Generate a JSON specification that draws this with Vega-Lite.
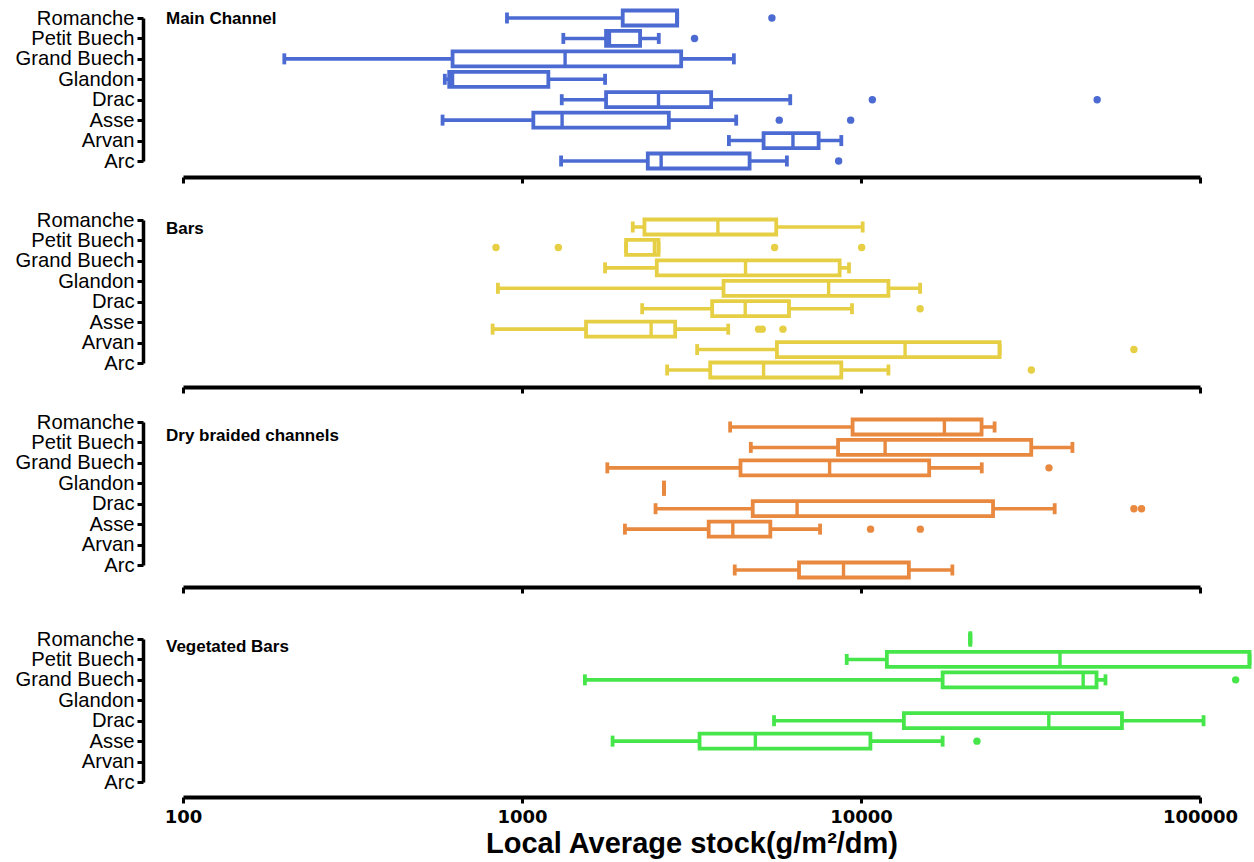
{
  "$schema": "https://vega.github.io/schema/vega-lite/v6.json",
  "padding": {"left": 15, "top": 8, "right": 0, "bottom": 4},
  "background": "white",
  "datasets": {
    "boxes": [
      {"panel": "Main Channel", "river": "Romanche", "lo": 903, "q1": 1982, "med": 2869, "q3": 2869, "hi": 2869},
      {"panel": "Main Channel", "river": "Petit Buech", "lo": 1324, "q1": 1770, "med": 1811, "q3": 2230, "hi": 2532},
      {"panel": "Main Channel", "river": "Grand Buech", "lo": 199, "q1": 624, "med": 1340, "q3": 2948, "hi": 4217},
      {"panel": "Main Channel", "river": "Glandon", "lo": 592, "q1": 610, "med": 624, "q3": 1196, "hi": 1758},
      {"panel": "Main Channel", "river": "Drac", "lo": 1310, "q1": 1770, "med": 2527, "q3": 3614, "hi": 6184},
      {"panel": "Main Channel", "river": "Asse", "lo": 583, "q1": 1080, "med": 1313, "q3": 2711, "hi": 4284},
      {"panel": "Main Channel", "river": "Arvan", "lo": 4077, "q1": 5160, "med": 6299, "q3": 7499, "hi": 8748},
      {"panel": "Main Channel", "river": "Arc", "lo": 1304, "q1": 2350, "med": 2573, "q3": 4692, "hi": 6045},
      {"panel": "Bars", "river": "Romanche", "lo": 2122, "q1": 2297, "med": 3783, "q3": 5623, "hi": 10114},
      {"panel": "Bars", "river": "Petit Buech", "lo": 2028, "q1": 2028, "med": 2458, "q3": 2527, "hi": 2527},
      {"panel": "Bars", "river": "Grand Buech", "lo": 1758, "q1": 2498, "med": 4564, "q3": 8650, "hi": 9218},
      {"panel": "Bars", "river": "Glandon", "lo": 849, "q1": 3931, "med": 8026, "q3": 12046, "hi": 14940},
      {"panel": "Bars", "river": "Drac", "lo": 2262, "q1": 3639, "med": 4555, "q3": 6131, "hi": 9406},
      {"panel": "Bars", "river": "Asse", "lo": 819, "q1": 1545, "med": 2404, "q3": 2830, "hi": 4058},
      {"panel": "Bars", "river": "Arvan", "lo": 3286, "q1": 5649, "med": 13490, "q3": 25640, "hi": 25640},
      {"panel": "Bars", "river": "Arc", "lo": 2680, "q1": 3591, "med": 5160, "q3": 8748, "hi": 12046},
      {"panel": "Dry braided channels", "river": "Romanche", "lo": 4111, "q1": 9445, "med": 17620, "q3": 22680, "hi": 24780},
      {"panel": "Dry braided channels", "river": "Petit Buech", "lo": 4731, "q1": 8557, "med": 11780, "q3": 31780, "hi": 42040},
      {"panel": "Dry braided channels", "river": "Grand Buech", "lo": 1785, "q1": 4411, "med": 8081, "q3": 15890, "hi": 22710},
      {"panel": "Dry braided channels", "river": "Glandon", "lo": 2623, "q1": 2623, "med": 2623, "q3": 2623, "hi": 2623},
      {"panel": "Dry braided channels", "river": "Drac", "lo": 2477, "q1": 4793, "med": 6478, "q3": 24520, "hi": 37270},
      {"panel": "Dry braided channels", "river": "Asse", "lo": 2012, "q1": 3554, "med": 4187, "q3": 5402, "hi": 7573},
      {"panel": "Dry braided channels", "river": "Arc", "lo": 4242, "q1": 6564, "med": 8880, "q3": 13840, "hi": 18600},
      {"panel": "Vegetated Bars", "river": "Romanche", "lo": 21010, "q1": 21010, "med": 21010, "q3": 21010, "hi": 21010},
      {"panel": "Vegetated Bars", "river": "Petit Buech", "lo": 9076, "q1": 11920, "med": 38630, "q3": 140000, "hi": 140000},
      {"panel": "Vegetated Bars", "river": "Grand Buech", "lo": 1533, "q1": 17410, "med": 45220, "q3": 49520, "hi": 52620},
      {"panel": "Vegetated Bars", "river": "Drac", "lo": 5539, "q1": 13380, "med": 35810, "q3": 58850, "hi": 102450},
      {"panel": "Vegetated Bars", "river": "Asse", "lo": 1850, "q1": 3340, "med": 4880, "q3": 10660, "hi": 17410}
    ],
    "outliers": [
      {"panel": "Main Channel", "river": "Romanche", "value": 5460},
      {"panel": "Main Channel", "river": "Petit Buech", "value": 3228},
      {"panel": "Main Channel", "river": "Drac", "value": 10800},
      {"panel": "Main Channel", "river": "Drac", "value": 49730},
      {"panel": "Main Channel", "river": "Asse", "value": 5740},
      {"panel": "Main Channel", "river": "Asse", "value": 9322},
      {"panel": "Main Channel", "river": "Arc", "value": 8591},
      {"panel": "Bars", "river": "Petit Buech", "value": 838},
      {"panel": "Bars", "river": "Petit Buech", "value": 1280},
      {"panel": "Bars", "river": "Petit Buech", "value": 5560},
      {"panel": "Bars", "river": "Petit Buech", "value": 10046},
      {"panel": "Bars", "river": "Drac", "value": 14940},
      {"panel": "Bars", "river": "Asse", "value": 4987},
      {"panel": "Bars", "river": "Asse", "value": 5113},
      {"panel": "Bars", "river": "Asse", "value": 5885},
      {"panel": "Bars", "river": "Arvan", "value": 63830},
      {"panel": "Bars", "river": "Arc", "value": 31800},
      {"panel": "Dry braided channels", "river": "Grand Buech", "value": 35850},
      {"panel": "Dry braided channels", "river": "Drac", "value": 63830},
      {"panel": "Dry braided channels", "river": "Drac", "value": 67230},
      {"panel": "Dry braided channels", "river": "Asse", "value": 10670},
      {"panel": "Dry braided channels", "river": "Asse", "value": 14960},
      {"panel": "Vegetated Bars", "river": "Grand Buech", "value": 127400},
      {"panel": "Vegetated Bars", "river": "Asse", "value": 21980}
    ]
  },
  "spacing": 59,
  "bounds": "flush",
  "vconcat": [
    {
      "width": 1017, "height": 143,
      "title": {"text": "Main Channel", "offset": -20},
      "data": {"name": "boxes"},
      "transform": [{"filter": "datum.panel === 'Main Channel'"}],
      "encoding": {"y": {"field": "river", "type": "nominal", "title": null, "scale": {"type": "point", "padding": 0, "domain": ["Romanche", "Petit Buech", "Grand Buech", "Glandon", "Drac", "Asse", "Arvan", "Arc"]}, "axis": {"offset": 40}}},
      "layer": [
        {"mark": {"type": "rule", "color": "#4b6bd3", "strokeWidth": 3.6}, "encoding": {"x": {"field": "lo", "type": "quantitative", "title": null, "scale": {"type": "log", "domain": [100, 100000], "nice": false}, "axis": {"labels": false, "offset": 16, "values": [100, 1000, 10000, 100000]}}, "x2": {"field": "hi"}}},
        {"mark": {"type": "bar", "fill": "white", "stroke": "#4b6bd3", "strokeWidth": 3.8, "height": 15}, "encoding": {"x": {"field": "q1", "type": "quantitative", "title": null, "scale": {"type": "log", "domain": [100, 100000], "nice": false}}, "x2": {"field": "q3"}}},
        {"mark": {"type": "tick", "color": "#4b6bd3", "size": 15, "thickness": 3.4, "opacity": 1}, "encoding": {"x": {"field": "med", "type": "quantitative", "title": null, "scale": {"type": "log", "domain": [100, 100000], "nice": false}}}},
        {"mark": {"type": "tick", "color": "#4b6bd3", "size": 11, "thickness": 3.8, "opacity": 1}, "encoding": {"x": {"field": "lo", "type": "quantitative", "title": null, "scale": {"type": "log", "domain": [100, 100000], "nice": false}}}},
        {"mark": {"type": "tick", "color": "#4b6bd3", "size": 11, "thickness": 3.8, "opacity": 1}, "encoding": {"x": {"field": "hi", "type": "quantitative", "title": null, "scale": {"type": "log", "domain": [100, 100000], "nice": false}}}},
        {"data": {"name": "outliers"}, "transform": [{"filter": "datum.panel === 'Main Channel'"}], "mark": {"type": "circle", "color": "#4b6bd3", "size": 55, "opacity": 1}, "encoding": {"x": {"field": "value", "type": "quantitative", "title": null, "scale": {"type": "log", "domain": [100, 100000], "nice": false}}}}
      ]
    },
    {
      "width": 1017, "height": 143,
      "title": {"text": "Bars", "offset": -27.5},
      "data": {"name": "boxes"},
      "transform": [{"filter": "datum.panel === 'Bars'"}],
      "encoding": {"y": {"field": "river", "type": "nominal", "title": null, "scale": {"type": "point", "padding": 0, "domain": ["Romanche", "Petit Buech", "Grand Buech", "Glandon", "Drac", "Asse", "Arvan", "Arc"]}, "axis": {"offset": 40}}},
      "layer": [
        {"mark": {"type": "rule", "color": "#e6cf44", "strokeWidth": 3.6, "yOffset": 7}, "encoding": {"x": {"field": "lo", "type": "quantitative", "title": null, "scale": {"type": "log", "domain": [100, 100000], "nice": false}, "axis": {"labels": false, "offset": 24, "values": [100, 1000, 10000, 100000]}}, "x2": {"field": "hi"}}},
        {"mark": {"type": "bar", "fill": "white", "stroke": "#e6cf44", "strokeWidth": 3.8, "height": 15, "yOffset": 7}, "encoding": {"x": {"field": "q1", "type": "quantitative", "title": null, "scale": {"type": "log", "domain": [100, 100000], "nice": false}}, "x2": {"field": "q3"}}},
        {"mark": {"type": "tick", "color": "#e6cf44", "size": 15, "thickness": 3.4, "opacity": 1, "yOffset": 7}, "encoding": {"x": {"field": "med", "type": "quantitative", "title": null, "scale": {"type": "log", "domain": [100, 100000], "nice": false}}}},
        {"mark": {"type": "tick", "color": "#e6cf44", "size": 11, "thickness": 3.8, "opacity": 1, "yOffset": 7}, "encoding": {"x": {"field": "lo", "type": "quantitative", "title": null, "scale": {"type": "log", "domain": [100, 100000], "nice": false}}}},
        {"mark": {"type": "tick", "color": "#e6cf44", "size": 11, "thickness": 3.8, "opacity": 1, "yOffset": 7}, "encoding": {"x": {"field": "hi", "type": "quantitative", "title": null, "scale": {"type": "log", "domain": [100, 100000], "nice": false}}}},
        {"data": {"name": "outliers"}, "transform": [{"filter": "datum.panel === 'Bars'"}], "mark": {"type": "circle", "color": "#e6cf44", "size": 55, "opacity": 1, "yOffset": 7}, "encoding": {"x": {"field": "value", "type": "quantitative", "title": null, "scale": {"type": "log", "domain": [100, 100000], "nice": false}}}}
      ]
    },
    {
      "width": 1017, "height": 158,
      "title": {"text": "Dry braided channels", "offset": -33},
      "data": {"name": "boxes"},
      "transform": [{"filter": "datum.panel === 'Dry braided channels'"}],
      "encoding": {"y": {"field": "river", "type": "nominal", "title": null, "scale": {"type": "point", "padding": 0, "range": [0, 143], "domain": ["Romanche", "Petit Buech", "Grand Buech", "Glandon", "Drac", "Asse", "Arvan", "Arc"]}, "axis": {"offset": 40}}},
      "layer": [
        {"mark": {"type": "rule", "color": "#e8893f", "strokeWidth": 3.6, "yOffset": 5}, "encoding": {"x": {"field": "lo", "type": "quantitative", "title": null, "scale": {"type": "log", "domain": [100, 100000], "nice": false}, "axis": {"labels": false, "offset": 7, "values": [100, 1000, 10000, 100000]}}, "x2": {"field": "hi"}}},
        {"mark": {"type": "bar", "fill": "white", "stroke": "#e8893f", "strokeWidth": 3.8, "height": 15, "yOffset": 5}, "encoding": {"x": {"field": "q1", "type": "quantitative", "title": null, "scale": {"type": "log", "domain": [100, 100000], "nice": false}}, "x2": {"field": "q3"}}},
        {"mark": {"type": "tick", "color": "#e8893f", "size": 15, "thickness": 3.4, "opacity": 1, "yOffset": 5}, "encoding": {"x": {"field": "med", "type": "quantitative", "title": null, "scale": {"type": "log", "domain": [100, 100000], "nice": false}}}},
        {"mark": {"type": "tick", "color": "#e8893f", "size": 11, "thickness": 3.8, "opacity": 1, "yOffset": 5}, "encoding": {"x": {"field": "lo", "type": "quantitative", "title": null, "scale": {"type": "log", "domain": [100, 100000], "nice": false}}}},
        {"mark": {"type": "tick", "color": "#e8893f", "size": 11, "thickness": 3.8, "opacity": 1, "yOffset": 5}, "encoding": {"x": {"field": "hi", "type": "quantitative", "title": null, "scale": {"type": "log", "domain": [100, 100000], "nice": false}}}},
        {"data": {"name": "outliers"}, "transform": [{"filter": "datum.panel === 'Dry braided channels'"}], "mark": {"type": "circle", "color": "#e8893f", "size": 55, "opacity": 1, "yOffset": 5}, "encoding": {"x": {"field": "value", "type": "quantitative", "title": null, "scale": {"type": "log", "domain": [100, 100000], "nice": false}}}}
      ]
    },
    {
      "width": 1017, "height": 143,
      "title": {"text": "Vegetated Bars", "offset": -27},
      "data": {"name": "boxes"},
      "transform": [{"filter": "datum.panel === 'Vegetated Bars'"}],
      "encoding": {"y": {"field": "river", "type": "nominal", "title": null, "scale": {"type": "point", "padding": 0, "domain": ["Romanche", "Petit Buech", "Grand Buech", "Glandon", "Drac", "Asse", "Arvan", "Arc"]}, "axis": {"offset": 40}}},
      "layer": [
        {"mark": {"type": "rule", "color": "#46e64b", "strokeWidth": 3.6}, "encoding": {"x": {"field": "lo", "type": "quantitative", "title": "Local Average stock(g/m²/dm)", "scale": {"type": "log", "domain": [100, 100000], "nice": false}, "axis": {"labels": true, "offset": 15, "labelPadding": 5, "labelOverlap": false, "labelBound": false, "labelExpr": "datum.value + ''", "values": [100, 1000, 10000, 100000], "title": "Local Average stock(g/m²/dm)"}}, "x2": {"field": "hi"}}},
        {"mark": {"type": "bar", "fill": "white", "stroke": "#46e64b", "strokeWidth": 3.8, "height": 15}, "encoding": {"x": {"field": "q1", "type": "quantitative", "title": "Local Average stock(g/m²/dm)", "scale": {"type": "log", "domain": [100, 100000], "nice": false}}, "x2": {"field": "q3"}}},
        {"mark": {"type": "tick", "color": "#46e64b", "size": 15, "thickness": 3.4, "opacity": 1}, "encoding": {"x": {"field": "med", "type": "quantitative", "title": "Local Average stock(g/m²/dm)", "scale": {"type": "log", "domain": [100, 100000], "nice": false}}}},
        {"mark": {"type": "tick", "color": "#46e64b", "size": 11, "thickness": 3.8, "opacity": 1}, "encoding": {"x": {"field": "lo", "type": "quantitative", "title": "Local Average stock(g/m²/dm)", "scale": {"type": "log", "domain": [100, 100000], "nice": false}}}},
        {"mark": {"type": "tick", "color": "#46e64b", "size": 11, "thickness": 3.8, "opacity": 1}, "encoding": {"x": {"field": "hi", "type": "quantitative", "title": "Local Average stock(g/m²/dm)", "scale": {"type": "log", "domain": [100, 100000], "nice": false}}}},
        {"data": {"name": "outliers"}, "transform": [{"filter": "datum.panel === 'Vegetated Bars'"}], "mark": {"type": "circle", "color": "#46e64b", "size": 55, "opacity": 1}, "encoding": {"x": {"field": "value", "type": "quantitative", "title": "Local Average stock(g/m²/dm)", "scale": {"type": "log", "domain": [100, 100000], "nice": false}}}}
      ]
    }
  ],
  "config": {
    "view": {"stroke": null},
    "font": "Liberation Sans",
    "title": {"anchor": "start", "frame": "group", "orient": "top", "dx": -17, "fontSize": 17, "fontWeight": "bold", "font": "Liberation Sans", "color": "black", "baseline": "middle"},
    "axis": {"grid": false, "domainColor": "black", "tickColor": "black", "labelColor": "black", "titleColor": "black"},
    "axisX": {"domainWidth": 4, "tickWidth": 3, "tickSize": 6, "format": "d", "labelFlush": false, "labelOverlap": false, "labelFont": "DejaVu Sans", "labelFontWeight": "bold", "labelFontSize": 18, "labelPadding": 2, "titleFont": "Liberation Sans", "titleFontSize": 29, "titleFontWeight": "bold", "titlePadding": 3},
    "axisY": {"domainWidth": 3.5, "tickWidth": 3, "tickSize": 6, "labelFont": "Liberation Sans", "labelFontSize": 20.2, "labelPadding": 3}
  }
}
